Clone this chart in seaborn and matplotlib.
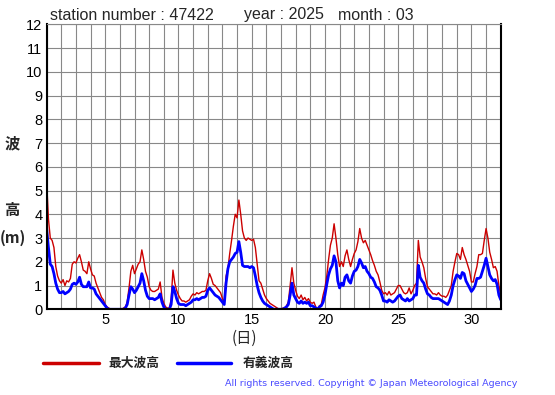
import matplotlib
matplotlib.use("Agg")
import matplotlib.pyplot as plt
import numpy as np
import pandas as pd
import seaborn as sns

# ---- data: 3-hourly wave height (m), March 2025, station 47422 ----
# one row per day, 8 readings per day, last value = 1 April 00h
max_wave = [
    5.4, 3.8, 3.0, 2.9, 2.6, 1.8, 1.4, 1.2,        # 1
    1.1, 1.25, 1.0, 1.2, 1.15, 1.3, 1.9, 2.0,      # 2
    1.95, 2.15, 2.3, 2.0, 1.65, 1.6, 1.5, 2.0,     # 3
    1.7, 1.45, 1.4, 1.1, 0.9, 0.7, 0.5, 0.4,       # 4
    0.2, 0.1, 0.05, 0.0, 0.0, 0.0, 0.0, 0.0,       # 5
    0.0, 0.0, 0.05, 0.1, 0.3, 0.9, 1.6, 1.85,      # 6
    1.5, 1.7, 1.9, 2.0, 2.5, 2.1, 1.6, 1.35,       # 7
    0.95, 0.8, 0.75, 0.75, 0.8, 0.85, 1.15, 0.5,   # 8
    0.25, 0.1, 0.05, 0.05, 0.4, 1.65, 1.1, 0.8,    # 9
    0.6, 0.45, 0.35, 0.35, 0.3, 0.35, 0.4, 0.55,   # 10
    0.65, 0.6, 0.7, 0.65, 0.7, 0.75, 0.75, 0.8,    # 11
    1.2, 1.5, 1.3, 1.05, 1.0, 0.9, 0.8, 0.7,       # 12
    0.45, 0.3, 1.4, 1.7, 2.35, 2.9, 3.5, 4.0,      # 13
    3.85, 4.6, 4.0, 3.3, 3.0, 2.9, 3.0, 2.95,      # 14
    2.9, 2.95, 2.6, 1.9, 1.2, 1.1, 0.85, 0.6,      # 15
    0.45, 0.35, 0.25, 0.2, 0.15, 0.1, 0.05, 0.0,   # 16
    0.0, 0.05, 0.05, 0.15, 0.3, 1.0, 1.75, 1.1,    # 17
    0.8, 0.55, 0.45, 0.6, 0.4, 0.5, 0.35, 0.45,    # 18
    0.3, 0.25, 0.3, 0.1, 0.0, 0.15, 0.2, 0.6,      # 19
    0.9, 1.4, 2.1, 2.7, 3.0, 3.6, 3.0, 2.3,        # 20
    1.8, 2.0, 1.8, 2.25, 2.5, 2.1, 1.8, 2.1,       # 21
    2.35, 2.5, 2.85, 3.4, 3.0, 2.8, 2.9, 2.7,      # 22
    2.5, 2.3, 2.05, 1.85, 1.6, 1.45, 1.15, 0.8,    # 23
    0.65, 0.7, 0.6, 0.75, 0.6, 0.65, 0.7, 0.85,    # 24
    1.0, 1.0, 0.85, 0.7, 0.65, 0.7, 0.9, 0.65,     # 25
    0.8, 1.0, 1.1, 2.9, 2.2, 2.0, 1.75, 1.3,       # 26
    0.95, 0.85, 0.75, 0.65, 0.65, 0.6, 0.7, 0.6,   # 27
    0.55, 0.55, 0.5, 0.6, 0.8, 1.0, 1.6, 2.0,      # 28
    2.35, 2.3, 2.1, 2.6, 2.3, 2.1, 1.85, 1.6,      # 29
    1.15, 1.15, 1.5, 1.8, 2.3, 2.3, 2.35, 2.9,     # 30
    3.4, 3.0, 2.4, 2.1, 1.75, 1.8, 1.6, 1.0,       # 31
    0.6,
]
sig_wave = [
    3.4, 2.6, 1.9, 1.8, 1.5, 1.1, 0.85, 0.7,       # 1
    0.7, 0.75, 0.65, 0.7, 0.75, 0.85, 1.05, 1.1,   # 2
    1.05, 1.15, 1.35, 1.05, 0.95, 0.95, 0.95, 1.15,  # 3
    0.9, 0.9, 0.85, 0.65, 0.55, 0.45, 0.35, 0.25,  # 4
    0.15, 0.05, 0.0, 0.0, 0.0, 0.0, 0.0, 0.0,      # 5
    0.0, 0.0, 0.0, 0.05, 0.2, 0.6, 0.95, 0.85,     # 6
    0.7, 0.8, 0.95, 1.1, 1.5, 1.2, 0.8, 0.55,      # 7
    0.45, 0.45, 0.45, 0.4, 0.45, 0.5, 0.65, 0.3,   # 8
    0.1, 0.0, 0.0, 0.0, 0.2, 0.95, 0.75, 0.45,     # 9
    0.25, 0.2, 0.2, 0.2, 0.15, 0.2, 0.25, 0.3,     # 10
    0.4, 0.4, 0.45, 0.4, 0.45, 0.5, 0.5, 0.55,     # 11
    0.8, 0.9, 0.8, 0.7, 0.6, 0.55, 0.5, 0.4,       # 12
    0.3, 0.2, 1.1, 1.7, 2.0, 2.1, 2.2, 2.35,       # 13
    2.4, 2.85, 2.4, 1.85, 1.8, 1.8, 1.8, 1.75,     # 14
    1.8, 1.75, 1.4, 1.0, 0.7, 0.5, 0.35, 0.25,     # 15
    0.2, 0.15, 0.1, 0.05, 0.0, 0.0, 0.0, 0.0,      # 16
    0.0, 0.0, 0.05, 0.1, 0.2, 0.6, 1.1, 0.6,       # 17
    0.45, 0.3, 0.25, 0.35, 0.25, 0.3, 0.25, 0.3,   # 18
    0.15, 0.15, 0.1, 0.05, 0.0, 0.1, 0.15, 0.3,    # 19
    0.6, 1.05, 1.45, 1.7, 1.85, 2.25, 2.0, 1.2,    # 20
    0.9, 1.1, 1.0, 1.35, 1.45, 1.2, 1.1, 1.4,      # 21
    1.6, 1.65, 1.8, 2.1, 1.95, 1.75, 1.8, 1.6,     # 22
    1.5, 1.35, 1.3, 1.15, 0.95, 0.9, 0.8, 0.6,     # 23
    0.35, 0.35, 0.3, 0.4, 0.35, 0.3, 0.35, 0.45,   # 24
    0.55, 0.6, 0.45, 0.4, 0.35, 0.45, 0.35, 0.4,   # 25
    0.45, 0.6, 0.6, 1.85, 1.35, 1.2, 1.1, 0.85,    # 26
    0.65, 0.6, 0.5, 0.45, 0.45, 0.45, 0.45, 0.4,   # 27
    0.35, 0.3, 0.25, 0.2, 0.35, 0.6, 1.0, 1.25,    # 28
    1.45, 1.4, 1.3, 1.55, 1.5, 1.2, 1.05, 0.9,     # 29
    0.75, 0.85, 1.0, 1.3, 1.3, 1.35, 1.6, 1.85,    # 30
    2.15, 1.8, 1.45, 1.3, 1.2, 1.25, 1.05, 0.6,    # 31
    0.4,
]
day_ticks = [5, 10, 15, 20, 25, 30]
station = "47422"
year = "2025"
month = "03"

RED = "#cc0000"
BLUE = "#0000ff"

df = pd.DataFrame({
    "day": 1 + np.arange(len(max_wave)) / 8,
    "max": max_wave,
    "sig": sig_wave,
})

sns.set_theme(style="white")
plt.rcParams["font.family"] = ["Liberation Sans", "DejaVu Sans"]
jp = ["Noto Sans CJK JP", "DejaVu Sans"]

fig = plt.figure(figsize=(5.55, 3.95), dpi=100)
ax = fig.add_axes([0.0840, 0.2170, 0.8182, 0.7215])

sns.lineplot(data=df, x="day", y="max", ax=ax, color=RED, linewidth=1.0, sort=False)
sns.lineplot(data=df, x="day", y="sig", ax=ax, color=BLUE, linewidth=2.0, sort=False)

ax.set_xlim(1, 32)
ax.set_ylim(0, 12)
ax.set_xticks(np.arange(1, 33), minor=True)
ax.set_xticks(day_ticks)
ax.set_yticks(np.arange(0, 13))
ax.grid(True, which="both", color="#888888", linewidth=0.8)
ax.set_axisbelow(True)
ax.tick_params(which="both", length=0, labelsize=10.5, colors="black", pad=3)
ax.set_xlabel("")
ax.set_ylabel("")
for side in ["left", "bottom", "right"]:
    ax.spines[side].set_color("black")
    ax.spines[side].set_linewidth(1.5)
ax.spines["top"].set_color("#888888")
ax.spines["top"].set_linewidth(0.8)

# title
fig.text(50 / 555, 1 - 15 / 395, "station number : " + station, fontsize=11.5, va="center")
fig.text(244 / 555, 1 - 15 / 395, "year : " + year, fontsize=11.5, va="center")
fig.text(338 / 555, 1 - 15 / 395, "month : " + month, fontsize=11.5, va="center")

# y label split
fig.text(12 / 555, 1 - 143 / 395, "波", family=jp, fontsize=11, fontweight="bold", ha="center", va="center")
fig.text(12 / 555, 1 - 210 / 395, "高", family=jp, fontsize=11, fontweight="bold", ha="center", va="center")
fig.text(13 / 555, 1 - 238 / 395, "(m)", family=jp, fontsize=11, fontweight="bold", ha="center", va="center")

# x label
fig.text(244 / 555, 1 - 338 / 395, "(日)", family=jp, fontsize=11, ha="center", va="center")

# legend
fig.add_artist(plt.Line2D([43 / 555, 99 / 555], [1 - 363 / 395] * 2, color=RED, linewidth=2.5))
fig.text(108 / 555, 1 - 363 / 395, "最大波高", family=jp, fontsize=9.2, fontweight="bold", va="center")
fig.add_artist(plt.Line2D([177 / 555, 231 / 555], [1 - 363 / 395] * 2, color=BLUE, linewidth=2.5))
fig.text(243 / 555, 1 - 363 / 395, "有義波高", family=jp, fontsize=9.2, fontweight="bold", va="center")

fig.text(517 / 555, 1 - 384 / 395, "All rights reserved. Copyright © Japan Meteorological Agency",
         family=["DejaVu Sans"], fontsize=6.8, color="#4a4aff", ha="right", va="center")

fig.savefig("out.png", dpi=100)
